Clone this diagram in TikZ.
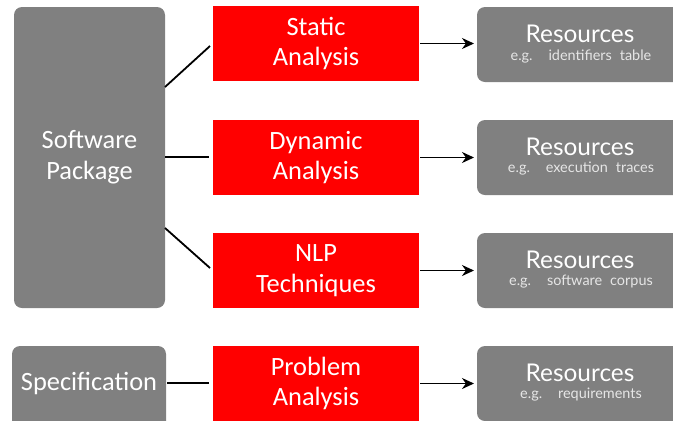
\documentclass[tikz,border=0pt]{standalone}
\usepackage{fontspec}
\setmainfont{Carlito}
\newfontfamily\resfont{Lato}
\usetikzlibrary{arrows.meta}
\definecolor{boxgray}{HTML}{808080}
\definecolor{notegray}{HTML}{E6E6E6}
\tikzset{
  x=1bp, y=-1bp,
  graybox/.style={fill=boxgray, rounded corners=8bp, draw=none},
  redbox/.style={fill=red, draw=none},
  label/.style={text=white, font=\fontsize{26.5}{31}\selectfont, align=center},
  link/.style={line width=1.8bp, black},
  feed/.style={line width=1.8bp, black, -{Stealth[length=12bp,width=11bp]}},
}
\begin{document}
\begin{tikzpicture}
\useasboundingbox (0,0) rectangle (673,420);
\clip (0,0) rectangle (673,420);

% source boxes
\fill[graybox] (14,7) rectangle (165,308);
\node[label] (pkg) at (89.5,157) {Software\\Package};
\coordinate (pkgA) at (165,87);
\coordinate (pkgB) at (165,157);
\coordinate (pkgC) at (165,228);
\fill[graybox] (12,346) rectangle (166,436);
\node[label] (spec) at (89,383) {Specification};
\coordinate (specE) at (167,383);

% analysis steps
\foreach \n/\t/\y in {sa/{Static\\Analysis}/6, da/{Dynamic\\Analysis}/120, nlp/{NLP\\Techniques}/233, pa/{Problem\\Analysis}/346}{
  \fill[redbox] (213,\y) rectangle (419,\y+75);
  \node[label] (\n) at (316,\y+37.5) {\t};
  \coordinate (\n W) at (210,\y+37.5);
  \coordinate (\n E) at (420,\y+37.5);
}

% resource boxes
\foreach \n/\t/\y in {r1/{e.g.\hspace{1.1em}identifiers\hspace{0.55em}table}/7, r2/{e.g.\hspace{1.1em}execution\hspace{0.55em}traces}/120, r3/{e.g.\hspace{1.1em}software\hspace{0.55em}corpus}/233, r4/{e.g.\hspace{1.1em}requirements}/346}{
  \fill[graybox] (477,\y) rectangle (690,\y+75);
  \node[text=white, font=\resfont\fontsize{24.5}{28}\selectfont] (\n) at (580,\y+27) {Resources};
  \node[text=notegray, font=\resfont\fontsize{14.5}{17}\selectfont] (\n s) at (581,\y+49) {\t};
  \coordinate (\n W) at (474,\y+37.5);
}

% connectors
\draw[link] (pkgA) -- (210,46);
\draw[link] (pkgB) -- (209,157);
\draw[link] (pkgC) -- (210,268);
\draw[link] (specE) -- (209,383);
\draw[feed] (saE) -- (r1W |- saE);
\draw[feed] (daE) -- (r2W |- daE);
\draw[feed] (nlpE) -- (r3W |- nlpE);
\draw[feed] (paE) -- (r4W |- paE);
\end{tikzpicture}
\end{document}
